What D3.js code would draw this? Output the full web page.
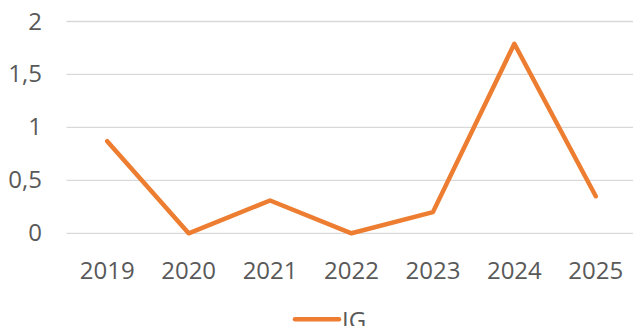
<!DOCTYPE html>
<html>
<head>
<meta charset="utf-8">
<script src="https://cdn.jsdelivr.net/npm/d3@7/dist/d3.min.js"></script>
<style>
  html, body { margin: 0; padding: 0; background: #ffffff; }
  svg { display: block; }
  text { font-family: "Open Sans", "Liberation Sans", sans-serif; fill: #595959; }
</style>
</head>
<body>
<svg id="chart" width="633" height="326"></svg>
<script>
// Annual values of the IG series
const years = ["2019", "2020", "2021", "2022", "2023", "2024", "2025"];
const igValues = [0.87, 0, 0.31, 0, 0.2, 1.79, 0.35];
const yTicks = [0, 0.5, 1, 1.5, 2];
const seriesName = "IG";

const W = 633, H = 326;
const plot = { left: 66.5, right: 636.5, top: 21.5, bottom: 233.3 };
const lineColor = "#ED7D31";

const svg = d3.select("#chart");

const x = d3.scaleBand().domain(years).range([plot.left, plot.right]);
const y = d3.scaleLinear().domain([0, 2]).range([plot.bottom, plot.top]);
const cx = d => x(d) + x.bandwidth() / 2;

// Horizontal gridlines
svg.append("g")
  .selectAll("line")
  .data(yTicks)
  .join("line")
  .attr("x1", plot.left)
  .attr("x2", W)
  .attr("y1", d => y(d))
  .attr("y2", d => y(d))
  .attr("stroke", "#d9d9d9")
  .attr("stroke-width", 1.3);

// Y axis labels (comma as decimal separator)
const fmt = d => String(d).replace(".", ",");
svg.append("g")
  .selectAll("text")
  .data(yTicks)
  .join("text")
  .attr("x", 42)
  .attr("y", d => y(d) + 8)
  .attr("text-anchor", "end")
  .attr("font-size", 24)
  .text(fmt);

// X axis labels
svg.append("g")
  .selectAll("text")
  .data(years)
  .join("text")
  .attr("x", d => cx(d))
  .attr("y", 279)
  .attr("text-anchor", "middle")
  .attr("font-size", 24)
  .text(d => d);

// Series line
const line = d3.line()
  .x((d, i) => cx(years[i]))
  .y(d => y(d));

svg.append("path")
  .datum(igValues)
  .attr("d", line)
  .attr("fill", "none")
  .attr("stroke", lineColor)
  .attr("stroke-width", 4.5)
  .attr("stroke-linejoin", "round")
  .attr("stroke-linecap", "round");

// Legend
const legend = svg.append("g");
legend.append("line")
  .attr("x1", 295).attr("x2", 339)
  .attr("y1", 319.3).attr("y2", 319.3)
  .attr("stroke", lineColor)
  .attr("stroke-width", 4.5)
  .attr("stroke-linecap", "round");
legend.append("text")
  .attr("x", 342)
  .attr("y", 328.5)
  .attr("font-size", 24)
  .text(seriesName);
</script>
</body>
</html>
